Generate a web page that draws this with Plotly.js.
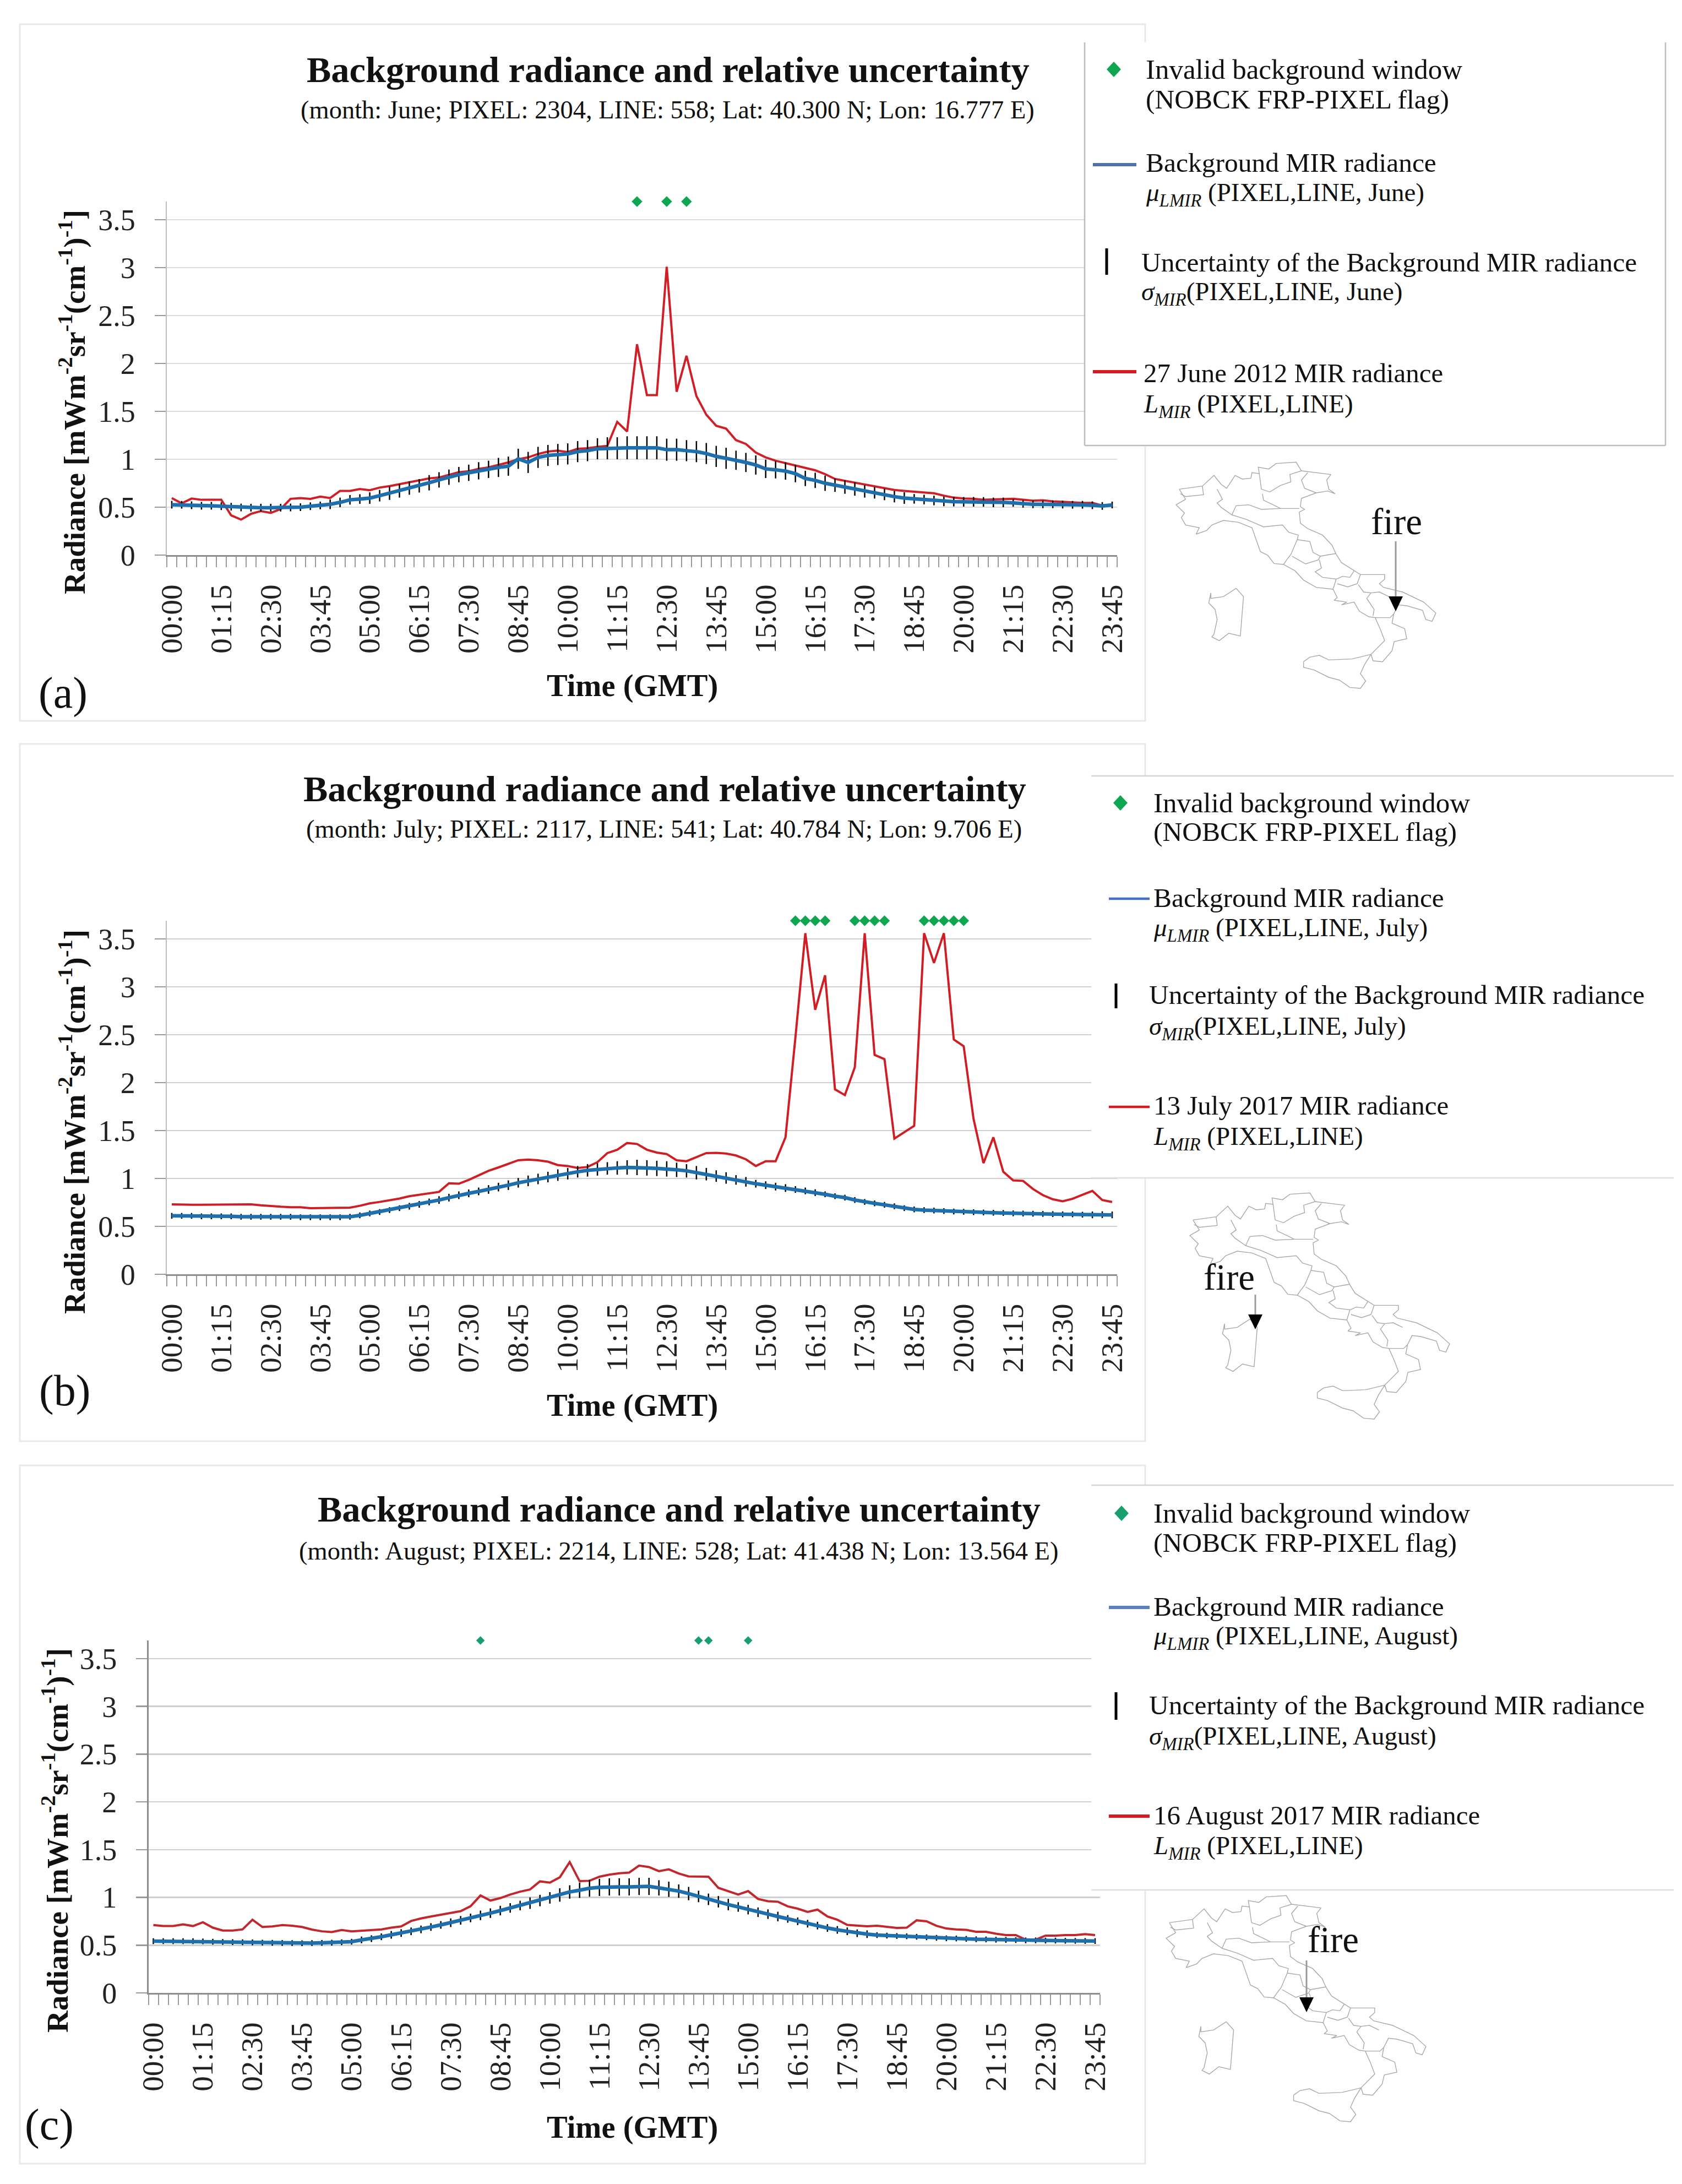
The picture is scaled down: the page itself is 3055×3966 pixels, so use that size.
<!DOCTYPE html>
<html><head><meta charset="utf-8">
<script src="https://cdn.plot.ly/plotly-3.0.1.min.js"></script>
<style>html,body{margin:0;padding:0;background:#fff}</style></head>
<body><div id="chart" style="width:3055px;height:3966px"></div>
<script>
const TIMES=["00:00","00:15","00:30","00:45","01:00","01:15","01:30","01:45","02:00","02:15","02:30","02:45","03:00","03:15","03:30","03:45","04:00","04:15","04:30","04:45","05:00","05:15","05:30","05:45","06:00","06:15","06:30","06:45","07:00","07:15","07:30","07:45","08:00","08:15","08:30","08:45","09:00","09:15","09:30","09:45","10:00","10:15","10:30","10:45","11:00","11:15","11:30","11:45","12:00","12:15","12:30","12:45","13:00","13:15","13:30","13:45","14:00","14:15","14:30","14:45","15:00","15:15","15:30","15:45","16:00","16:15","16:30","16:45","17:00","17:15","17:30","17:45","18:00","18:15","18:30","18:45","19:00","19:15","19:30","19:45","20:00","20:15","20:30","20:45","21:00","21:15","21:30","21:45","22:00","22:15","22:30","22:45","23:00","23:15","23:30","23:45"];
const TICK_IDX=[0,5,10,15,20,25,30,35,40,45,50,55,60,65,70,75,80,85,90,95];

const MEAN_A=[.526,.525,.52,.515,.515,.51,.505,.497,.495,.495,.495,.495,.497,.50,.51,.518,.53,.55,.577,.585,.595,.62,.646,.67,.70,.723,.755,.785,.813,.84,.859,.88,.895,.915,.928,1.005,.967,1.02,1.04,1.05,1.056,1.08,1.09,1.11,1.115,1.115,1.12,1.12,1.12,1.12,1.10,1.10,1.09,1.08,1.06,1.03,1.01,.99,.967,.94,.90,.89,.877,.85,.80,.78,.75,.73,.71,.69,.665,.65,.633,.61,.595,.587,.58,.57,.56,.558,.556,.556,.555,.55,.55,.545,.535,.53,.53,.53,.527,.525,.525,.52,.513,.523];
const RED_A=[.595,.54,.59,.577,.577,.577,.415,.37,.43,.46,.44,.48,.587,.595,.587,.61,.595,.67,.67,.69,.677,.705,.72,.74,.76,.78,.80,.81,.84,.865,.875,.90,.915,.94,.967,1.0,1.02,1.055,1.08,1.09,1.075,1.11,1.115,1.13,1.14,1.39,1.29,2.20,1.67,1.67,3.01,1.705,2.08,1.66,1.465,1.35,1.32,1.2,1.16,1.07,1.02,.985,.96,.935,.915,.885,.845,.795,.775,.755,.735,.715,.695,.68,.67,.66,.65,.645,.62,.60,.59,.587,.577,.58,.587,.587,.577,.567,.572,.56,.556,.55,.544,.544,.518,.525];
const ERR_A=[.04,.04,.04,.04,.04,.04,.04,.04,.04,.04,.04,.04,.04,.04,.04,.04,.05,.05,.05,.05,.06,.06,.07,.07,.07,.07,.08,.08,.08,.08,.085,.09,.09,.10,.10,.105,.11,.11,.11,.11,.11,.11,.11,.11,.115,.115,.12,.12,.12,.12,.115,.115,.11,.11,.11,.11,.11,.10,.10,.10,.096,.09,.09,.09,.08,.08,.08,.07,.07,.07,.065,.06,.06,.06,.06,.05,.05,.05,.05,.05,.05,.05,.05,.05,.05,.04,.04,.04,.04,.04,.04,.04,.04,.04,.04,.035];
const FLAG_A=[47,50,52];

const MEAN_B=[.61,.61,.61,.605,.605,.605,.605,.60,.60,.60,.60,.60,.60,.595,.595,.595,.595,.595,.60,.615,.635,.65,.67,.69,.71,.73,.755,.775,.80,.825,.845,.865,.885,.91,.93,.955,.975,.995,1.015,1.035,1.05,1.07,1.085,1.095,1.105,1.11,1.115,1.115,1.11,1.105,1.10,1.09,1.08,1.06,1.045,1.025,1.005,.985,.965,.945,.93,.915,.90,.885,.87,.852,.835,.815,.80,.775,.755,.74,.725,.71,.69,.677,.67,.665,.66,.655,.652,.648,.645,.642,.64,.636,.634,.632,.63,.628,.626,.625,.622,.62,.622,.62];
const RED_B=[.73,.725,.725,.725,.725,.73,.73,.73,.73,.72,.71,.705,.70,.70,.69,.69,.69,.69,.695,.715,.74,.755,.77,.79,.815,.83,.85,.86,.95,.945,.985,1.035,1.08,1.115,1.15,1.19,1.197,1.19,1.175,1.14,1.13,1.11,1.12,1.17,1.265,1.30,1.37,1.36,1.30,1.27,1.255,1.19,1.18,1.225,1.265,1.268,1.26,1.24,1.20,1.13,1.18,1.18,1.43,2.47,3.56,2.76,3.12,1.93,1.87,2.16,3.56,2.29,2.245,1.416,1.48,1.55,3.56,3.25,3.56,2.45,2.38,1.62,1.16,1.43,1.07,.98,.975,.89,.826,.783,.762,.788,.83,.87,.775,.754];
const ERR_B=[.03,.03,.03,.03,.03,.03,.03,.03,.03,.03,.03,.03,.03,.03,.03,.03,.03,.03,.03,.03,.03,.03,.03,.03,.035,.035,.035,.04,.04,.04,.04,.04,.045,.045,.05,.05,.055,.055,.055,.06,.06,.06,.065,.065,.065,.07,.075,.08,.08,.08,.08,.075,.07,.07,.065,.06,.06,.05,.05,.04,.04,.04,.04,.035,.035,.035,.03,.03,.03,.03,.03,.03,.03,.03,.03,.03,.03,.03,.03,.03,.03,.03,.03,.03,.03,.03,.03,.03,.03,.03,.03,.03,.03,.035,.035,.035];
const FLAG_B=[63,64,65,66,69,70,71,72,76,77,78,79,80];

const MEAN_C=[.542,.542,.542,.542,.542,.54,.536,.534,.532,.53,.529,.527,.525,.523,.522,.52,.522,.524,.526,.53,.536,.555,.568,.588,.608,.627,.645,.665,.69,.712,.735,.76,.785,.812,.835,.862,.89,.915,.94,.967,.995,1.025,1.057,1.075,1.096,1.105,1.11,1.11,1.11,1.115,1.115,1.10,1.085,1.066,1.04,1.01,.98,.955,.925,.90,.872,.845,.825,.80,.775,.75,.725,.705,.68,.66,.645,.625,.615,.605,.60,.596,.593,.588,.582,.577,.572,.57,.566,.562,.56,.557,.555,.553,.55,.55,.548,.548,.546,.545,.544,.543];
const RED_C=[.71,.70,.70,.717,.70,.74,.683,.653,.653,.665,.766,.69,.696,.71,.704,.69,.663,.645,.637,.658,.645,.65,.655,.665,.683,.696,.753,.78,.80,.817,.838,.856,.908,1.02,.967,.993,1.03,1.06,1.083,1.168,1.155,1.21,1.37,1.17,1.174,1.217,1.238,1.253,1.26,1.333,1.318,1.275,1.294,1.25,1.22,1.217,1.217,1.10,1.066,1.03,1.066,.984,.96,.955,.906,.882,.848,.872,.80,.766,.712,.703,.698,.703,.693,.68,.683,.76,.75,.703,.674,.664,.66,.64,.64,.62,.606,.606,.557,.557,.60,.60,.606,.606,.615,.606];
const ERR_C=[.03,.03,.03,.03,.03,.03,.03,.03,.03,.03,.03,.03,.03,.03,.03,.03,.03,.03,.03,.03,.03,.035,.035,.035,.04,.04,.04,.04,.04,.04,.045,.045,.045,.05,.05,.05,.05,.05,.06,.06,.06,.07,.07,.08,.088,.09,.09,.09,.09,.09,.09,.08,.08,.07,.07,.06,.06,.06,.06,.05,.05,.05,.05,.05,.04,.04,.04,.04,.04,.04,.04,.04,.04,.03,.03,.03,.03,.03,.03,.03,.03,.03,.03,.03,.03,.03,.03,.03,.03,.03,.03,.03,.03,.03,.03,.03];
const FLAG_C=[33,55,56,60];
const FLAG_LEVEL=3.69;

const MONTHS=["June","July","August"];
const SUBTITLES=["(month: June; PIXEL: 2304, LINE: 558; Lat: 40.300 N; Lon: 16.777 E)","(month: July; PIXEL: 2117, LINE: 541; Lat: 40.784 N; Lon: 9.706 E)","(month: August; PIXEL: 2214, LINE: 528; Lat: 41.438 N; Lon: 13.564 E)"];
const EVENT_LABELS=["27 June 2012 MIR radiance","13 July 2017 MIR radiance","16 August 2017 MIR radiance"];
const PANEL_TAGS=["(a)","(b)","(c)"];
const TITLE="Background radiance and relative uncertainty";

// Italy outline, as polylines (local map units)
const MAP_LINES=[
[[240,265],[350,248],[405,190],[440,240],[465,260],[505,190],[540,210],[580,205],[585,175],[620,180],[615,145],[665,155],[700,125],[795,118],[820,165],[960,185],[940,215],[950,265],[980,290],[945,275],[890,285],[820,315],[815,360],[835,375],[810,390],[815,450],[850,480],[920,515],[965,570],[985,620],[1010,665],[1070,710],[1100,730],[1215,730],[1215,755],[1190,780],[1210,800],[1300,825],[1400,880],[1458,940],[1440,985],[1410,975],[1395,925],[1320,900],[1280,895],[1258,945],[1250,995],[1310,1025],[1320,1080],[1260,1095],[1250,1145],[1205,1205],[1160,1200],[1150,1165],[1185,1125],[1215,1090],[1195,1030],[1170,965],[1140,960],[1095,930],[1070,880],[1010,895],[1035,880],[975,870],[990,855],[970,810],[890,800],[830,760],[790,710],[735,675],[690,670],[660,625],[625,605],[600,520],[585,475],[520,445],[450,435],[395,460],[370,490],[320,510],[335,475],[270,460],[250,420],[265,395],[225,350],[270,320],[240,265]],
[[420,265],[445,320],[420,340],[440,365],[490,405],[510,355],[570,350],[630,375],[720,370],[810,370]],
[[490,405],[560,430],[640,470],[730,460],[760,500],[805,515],[800,540]],
[[245,290],[270,305],[355,295],[350,248]],
[[635,290],[640,325],[695,355],[720,370]],
[[620,180],[630,265],[670,280],[720,245],[770,225],[765,185],[820,165]],
[[850,175],[820,215],[835,260],[890,285]],
[[800,540],[770,620],[750,650],[735,675]],
[[800,540],[860,550],[875,610],[910,630],[900,650],[840,672],[775,630]],
[[910,630],[985,615]],
[[905,650],[915,695],[885,715],[920,745],[985,755],[970,810]],
[[1070,710],[1050,745],[1015,740],[985,755]],
[[990,780],[1040,797],[1085,780],[1100,730]],
[[1090,785],[1115,825],[1150,830],[1190,825],[1235,850]],
[[1150,830],[1130,860],[1165,920],[1160,955]],
[[1170,965],[1240,965],[1258,945]],
[[390,830],[380,885],[410,920],[420,975],[405,1055],[395,1070],[430,1090],[475,1050],[530,1065],[540,920],[545,850],[510,805],[450,850],[390,860],[390,830]],
[[830,1205],[860,1180],[905,1170],[950,1195],[1060,1190],[1150,1165],[1120,1220],[1100,1270],[1125,1310],[1100,1350],[1050,1345],[1000,1305],[950,1290],[880,1250],[830,1235],[830,1205]]
];

const W=3055,H=3966,FONT="Liberation Serif";
const px=x=>x/W, py=y=>1-y/H;
const SERIES=[[MEAN_A,RED_A,ERR_A,FLAG_A],[MEAN_B,RED_B,ERR_B,FLAG_B],[MEAN_C,RED_C,ERR_C,FLAG_C]];
// page layout, pixels
const P=[
 {box:[36,44,2080,1309],x0:303,x1:2029,y0:1008,yTop:366,title:[1213,127],sub:[1212,199],xt:[1148,1246],yt:[131,730],tag:[114,1258],
  leg:{l:1970,r:3025,t:77,b:809,sides:true,dy:[126,180,296,353,476,533,677,736],dx:[2079,2079,2071,2075],mk:2023,ln:[1985,2064],bar:[2010,451,499],ys:[299,675],lw:6},
  map:[2050,800],fire:[2536,947],arrow:[2535,983,1110]},
 {box:[36,1351,2080,2617],x0:303,x1:2029,y0:2314,yTop:1672,title:[1207,1432],sub:[1206,1506],xt:[1148,2552],yt:[131,2037],tag:[117,2525],
  leg:{l:1982,r:3040,t:1409,b:2139,sides:false,dy:[1458,1511,1630,1688,1806,1867,2008,2066],dx:[2093,2093,2085,2093],mk:2035,ln:[2014,2088],bar:[2027,1786,1831],ys:[1632,2010],lw:4.5},
  map:[2075,2127],fire:[2232,2319],arrow:[2280,2351,2414]},
 {box:[36,2661,2080,3929],x0:269.5,x1:1998,y0:3619,yTop:2979,title:[1233,2740],sub:[1232,2816],xt:[1148,3863],yt:[100,3342],tag:[89,3858],
  leg:{l:1982,r:3040,t:2697,b:3432,sides:false,dy:[2748,2801,2917,2973,3096,3155,3296,3354],dx:[2093,2093,2085,2093],mk:2037,ln:[2014,2088],bar:[2027,3073,3123],ys:[2919,3298],lw:6},
  map:[2032,3403],fire:[2421,3522],arrow:[2373,3560,3654]}
];
const RED_COL=["#d01f26","#cf1f25","#c1272d"], GREEN=["#0ea650","#0ea650","#17a06e"], MS=[15,15,12];
const LEG_BLUE=["#4f72ae","#4472c4","#5b80bd"];

const traces=[],shapes=[],annos=[],layout={};
const ann=(x,y,text,size,extra)=>annos.push(Object.assign({xref:"paper",yref:"paper",x:px(x),y:py(y),text,showarrow:false,xanchor:"center",yanchor:"middle",font:{family:FONT,size,color:"#111"}},extra||{}));
const line=(x0,y0,x1,y1,color,width,lay)=>shapes.push({type:"line",xref:"paper",yref:"paper",x0:px(x0),y0:py(y0),x1:px(x1),y1:py(y1),line:{color,width},layer:lay||"above"});
const tri=(pts,color)=>shapes.push({type:"path",xref:"paper",yref:"paper",path:"M"+pts.map(p=>px(p[0])+","+py(p[1])).join("L")+"Z",fillcolor:color,line:{width:0},layer:"above"});

P.forEach((p,k)=>{
  const n=k===0?"":String(k+1), ax="x"+n, ay="y"+n;
  const [mean,red,err,flag]=SERIES[k];
  const xs=TIMES.map((_,i)=>i);
  traces.push({type:"scatter",mode:"lines",x:xs,y:red,xaxis:ax,yaxis:ay,line:{color:RED_COL[k],width:4},showlegend:false,cliponaxis:false});
  traces.push({type:"scatter",mode:"lines",x:xs,y:mean,xaxis:ax,yaxis:ay,line:{color:"#1d6fae",width:6.5},showlegend:false,
     error_y:{type:"data",array:err,visible:true,color:"#000",thickness:2.5,width:0}});
  traces.push({type:"scatter",mode:"markers",x:flag,y:flag.map(()=>FLAG_LEVEL),xaxis:ax,yaxis:ay,marker:{symbol:"diamond",size:MS[k],color:GREEN[k]},showlegend:false,cliponaxis:false});
  layout["xaxis"+n]={domain:[px(p.x0),px(p.x1)],anchor:ay,range:[-0.5,95.5],tickmode:"array",tickvals:TICK_IDX,ticktext:TICK_IDX.map(i=>TIMES[i]),tickangle:-90,
     ticks:"outside",ticklen:19,tickcolor:"rgba(0,0,0,0)",ticklabelstandoff:10,showgrid:false,zeroline:false,showline:true,linecolor:"#8c8c8c",linewidth:2.5,
     tickfont:{family:FONT,size:55,color:"#222"},minor:{tickmode:"linear",tick0:-0.5,dtick:1,ticks:"outside",ticklen:19,tickcolor:"#9a9a9a",tickwidth:2,showgrid:false}};
  layout["yaxis"+n]={domain:[py(p.y0),py(p.yTop)],anchor:ax,range:[0,FLAG_LEVEL],tickmode:"linear",tick0:0,dtick:0.5,ticks:"outside",ticklen:20,tickcolor:"#9a9a9a",tickwidth:2.5,ticklabelstandoff:24,
     showgrid:true,gridcolor:k===0?"#dcdcdc":"#cfcfcf",gridwidth:2.5,zeroline:false,showline:true,linecolor:k===2?"#8c8c8c":"#bdbdbd",linewidth:2.5,tickfont:{family:FONT,size:54,color:"#222"}};

  // panel frame
  shapes.push({type:"rect",xref:"paper",yref:"paper",x0:px(p.box[0]),x1:px(p.box[2]),y0:py(p.box[3]),y1:py(p.box[1]),line:{color:"#e9e9e9",width:3},fillcolor:"rgba(0,0,0,0)",layer:"below"});
  // titles
  ann(p.title[0],p.title[1],"<b>"+TITLE+"</b>",66.5);
  ann(p.sub[0],p.sub[1],SUBTITLES[k],46.5);
  ann(p.xt[0],p.xt[1],"<b>Time (GMT)</b>",56.5);
  ann(p.yt[0],p.yt[1],"<b>Radiance [mWm<sup>-2</sup>sr<sup>-1</sup>(cm<sup>-1</sup>)<sup>-1</sup>]</b>",55,{textangle:-90});
  ann(p.tag[0],p.tag[1],PANEL_TAGS[k],80);

  // legend
  const L=p.leg;
  shapes.push({type:"rect",xref:"paper",yref:"paper",x0:px(L.l),x1:px(L.r),y0:py(L.b),y1:py(L.t),fillcolor:"#fff",line:{width:0},layer:"above"});
  if(L.sides){ line(L.l,L.t,L.l,L.b,"#bdbdbd",2.5); line(L.r,L.t,L.r,L.b,"#bdbdbd",2.5); line(L.l,L.b,L.r,L.b,"#bdbdbd",2.5); }
  else { line(L.l,L.t,L.r,L.t,"#d4d4d4",2.5); line(L.l,L.b,L.r,L.b,"#e0e0e0",2.5); }
  const m=L.mk, my=L.dy[0];
  tri([[m,my-14],[m+13,my],[m,my+14],[m-13,my]],GREEN[k]);
  line(L.ln[0],L.ys[0],L.ln[1],L.ys[0],LEG_BLUE[k],L.lw);
  line(L.bar[0],L.bar[1],L.bar[0],L.bar[2],"#000",5);
  line(L.ln[0],L.ys[1],L.ln[1],L.ys[1],"#d81920",L.lw);
  const left={xanchor:"left"}, ls=49.5, ls2=47;
  const mo=MONTHS[k];
  ann(L.dx[0],L.dy[0],"Invalid background window",51,left);
  ann(L.dx[0],L.dy[1],"(NOBCK FRP-PIXEL flag)",ls,left);
  ann(L.dx[1],L.dy[2],"Background MIR radiance",ls,left);
  ann(L.dx[1],L.dy[3],"<i>μ<sub>LMIR</sub></i> (PIXEL,LINE, "+mo+")",ls2,left);
  ann(L.dx[2],L.dy[4],"Uncertainty of the Background MIR radiance",ls,left);
  ann(L.dx[2],L.dy[5],"<i>σ<sub>MIR</sub></i>(PIXEL,LINE, "+mo+")",ls2,left);
  ann(L.dx[3],L.dy[6],EVENT_LABELS[k],49,left);
  ann(L.dx[3],L.dy[7],"<i>L<sub>MIR</sub></i> (PIXEL,LINE)",ls2,left);

  // locator map on its own hidden axes
  const a="x"+(k+4), b="y"+(k+4), mapX=[],mapY=[];
  MAP_LINES.forEach(l=>{l.forEach(q=>{mapX.push(q[0]);mapY.push(q[1]);});mapX.push(null);mapY.push(null);});
  traces.push({type:"scatter",mode:"lines",x:mapX,y:mapY,xaxis:a,yaxis:b,line:{color:"#a8a8a8",width:1.4},showlegend:false,connectgaps:false});
  layout["xaxis"+(k+4)]={domain:[px(p.map[0]),px(p.map[0]+600)],range:[0,1568],visible:false,anchor:b,fixedrange:true};
  layout["yaxis"+(k+4)]={domain:[py(p.map[1]+460),py(p.map[1])],range:[1380,0],visible:false,anchor:a,fixedrange:true};
  ann(p.fire[0],p.fire[1],"fire",67);
  const [ax0,ay0,ay1]=p.arrow;
  line(ax0,ay0,ax0,ay1-25,"#9a9a9a",3);
  tri([[ax0-13,ay1-27],[ax0+13,ay1-27],[ax0,ay1]],"#000");
});

Object.assign(layout,{width:W,height:H,margin:{l:0,r:0,t:0,b:0,pad:0},paper_bgcolor:"#fff",plot_bgcolor:"rgba(0,0,0,0)",showlegend:false,shapes,annotations:annos,font:{family:FONT}});
Plotly.newPlot("chart",traces,layout,{displayModeBar:false,staticPlot:true});
</script></body></html>
